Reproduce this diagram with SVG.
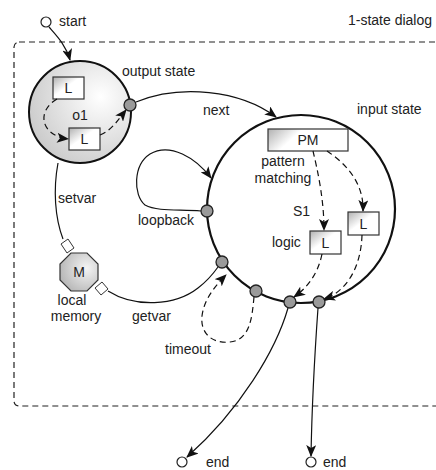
<svg xmlns="http://www.w3.org/2000/svg" width="436" height="470" viewBox="0 0 436 470">
<style>
text{font-family:"Liberation Sans",Arial,sans-serif;font-size:14px;fill:#222}
.c{text-anchor:middle}
.ln{fill:none;stroke:#111;stroke-width:1.2}
.ds{fill:none;stroke:#111;stroke-width:1.2;stroke-dasharray:6,4}
.port{fill:#9a9a9a;stroke:#222;stroke-width:1.3}
.box{fill:url(#bg);stroke:#333;stroke-width:1.2}
.dia{fill:#fff;stroke:#333;stroke-width:1}
.term{fill:#fff;stroke:#222;stroke-width:1.2}
</style>
<defs>
<marker id="a" viewBox="0 0 12 10" refX="11" refY="5" markerWidth="12" markerHeight="10" markerUnits="userSpaceOnUse" orient="auto">
<path d="M0,0 L12,5 L0,10 L3,5 z" fill="#111"/>
</marker>
<radialGradient id="og" cx="0.7" cy="0.35" r="0.9">
<stop offset="0" stop-color="#ffffff"/>
<stop offset="1" stop-color="#c0c0c0"/>
</radialGradient>
<linearGradient id="bg" x1="0" y1="0" x2="1" y2="1">
<stop offset="0" stop-color="#b0b0b0"/>
<stop offset="0.45" stop-color="#ffffff"/>
<stop offset="1" stop-color="#ffffff"/>
</linearGradient>
<linearGradient id="pg" x1="0" y1="0" x2="1" y2="0.3">
<stop offset="0" stop-color="#b0b0b0"/>
<stop offset="0.4" stop-color="#ffffff"/>
<stop offset="1" stop-color="#ffffff"/>
</linearGradient>
<radialGradient id="mg" cx="0.7" cy="0.4" r="0.8">
<stop offset="0" stop-color="#f4f4f4"/>
<stop offset="1" stop-color="#b0b0b0"/>
</radialGradient>
</defs>

<g id="dialog">
<rect x="14" y="42" width="440" height="364" rx="5" fill="none" stroke="#222" stroke-width="1.2" stroke-dasharray="6,4"/>
<text x="348" y="25">1-state dialog</text>
</g>

<g id="start">
<circle cx="46" cy="22" r="5" class="term"/>
<text x="59" y="26">start</text>
</g>

<g id="output-state">
<circle cx="80" cy="112" r="51" fill="url(#og)" stroke="#111" stroke-width="2"/>
<text x="122" y="76">output state</text>
<rect x="53" y="77" width="31" height="22" class="box"/>
<text x="68.5" y="93" class="c">L</text>
<text x="80" y="120" class="c">o1</text>
<rect x="69" y="128" width="31" height="22" class="box"/>
<text x="84.5" y="144" class="c">L</text>
<circle cx="130" cy="105" r="6" class="port"/>
</g>

<g id="input-state">
<circle cx="301" cy="209" r="94" fill="#fff" stroke="#111" stroke-width="2.2"/>
<text x="357" y="114">input state</text>
<rect x="268" y="129" width="80" height="22" fill="url(#pg)" stroke="#333" stroke-width="1.2"/>
<text x="308" y="145" class="c">PM</text>
<text x="283" y="166" class="c">pattern</text>
<text x="283" y="183" class="c">matching</text>
<text x="293" y="216">S1</text>
<text x="272" y="247">logic</text>
<rect x="310" y="231" width="31" height="23" class="box"/>
<text x="325.5" y="248" class="c">L</text>
<rect x="348" y="212" width="31" height="23" class="box"/>
<text x="363.5" y="229" class="c">L</text>
<circle cx="207" cy="211" r="6" class="port"/>
<circle cx="222" cy="262" r="6" class="port"/>
<circle cx="256" cy="291" r="6" class="port"/>
<circle cx="290" cy="302" r="6" class="port"/>
<circle cx="319" cy="302" r="6" class="port"/>
</g>

<g id="local-memory">
<polygon points="71,253 87,253 98,264 98,280 87,291 71,291 60,280 60,264" fill="url(#mg)" stroke="#333" stroke-width="1.2"/>
<text x="79" y="277" class="c">M</text>
<text x="72" y="305" class="c">local</text>
<text x="76" y="321" class="c">memory</text>
</g>

<g id="end1">
<circle cx="182" cy="462" r="5" class="term"/>
<text x="206" y="467">end</text>
</g>
<g id="end2">
<circle cx="311" cy="462" r="5" class="term"/>
<text x="323" y="467">end</text>
</g>

<g id="connectors">
<path class="ln" d="M49,27 C56,35 66,45 70,60" marker-end="url(#a)"/>
<path class="ds" d="M57,99 C35,112 42,136 68,139" marker-end="url(#a)"/>
<path class="ds" d="M100,135 C112,130 118,120 126,110" marker-end="url(#a)"/>
<path class="ln" d="M136,102 C180,84 240,90 276,117" marker-end="url(#a)"/>
<text x="203" y="115">next</text>
<path class="ln" d="M201,211 C180,209 158,212 145,205 C133,195 133,165 150,154 C170,142 196,158 211,178" marker-end="url(#a)"/>
<text x="138" y="225">loopback</text>
<path class="ln" d="M58,163 C53,190 55,218 63,239"/>
<polygon points="61,244 68,239 74,248 67,253" class="dia"/>
<text x="58" y="203">setvar</text>
<polygon points="95,288 102,282 108,289 101,295" class="dia"/>
<path class="ln" d="M108,291 C135,308 175,306 198,288 C206,282 213,274 218,267"/>
<text x="132" y="321">getvar</text>
<path class="ds" d="M254,297 C252,318 250,340 230,342 C213,344 200,334 202,316 C204,300 214,287 226,275" marker-end="url(#a)"/>
<text x="165" y="354">timeout</text>
<path class="ds" d="M313,151 C318,172 324,200 324,230" marker-end="url(#a)"/>
<path class="ds" d="M327,151 C345,163 364,182 363,211" marker-end="url(#a)"/>
<path class="ds" d="M322,254 C318,274 307,288 294,297" marker-end="url(#a)"/>
<path class="ds" d="M362,235 C361,268 346,292 324,299" marker-end="url(#a)"/>
<path class="ln" d="M288,308 C276,350 240,410 187,457" marker-end="url(#a)"/>
<path class="ln" d="M318,308 C315,350 312,400 311,456" marker-end="url(#a)"/>
</g>
</svg>
